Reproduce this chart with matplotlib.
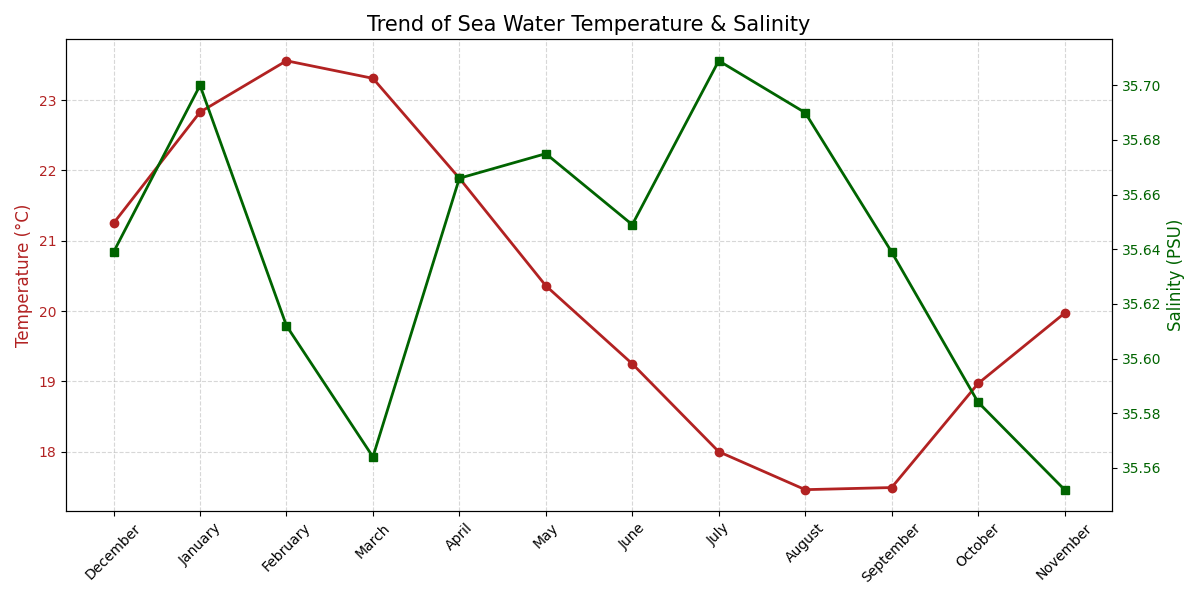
import matplotlib.pyplot as plt

months = ['December', 'January', 'February', 'March', 'April', 'May',
          'June', 'July', 'August', 'September', 'October', 'November']
temperature = [21.25, 22.83, 23.56, 23.31, 21.89, 20.36,
               19.25, 18.00, 17.46, 17.49, 18.97, 19.97]
salinity = [35.639, 35.700, 35.612, 35.564, 35.666, 35.675,
            35.649, 35.709, 35.690, 35.639, 35.584, 35.552]

temp_color = 'firebrick'
sal_color = 'darkgreen'

fig, ax1 = plt.subplots(figsize=(12, 6), dpi=100)

ax1.plot(months, temperature, color=temp_color, marker='o', linewidth=2)
ax1.set_ylabel('Temperature (°C)', color=temp_color, fontsize=12)
ax1.tick_params(axis='y', labelcolor=temp_color)
ax1.tick_params(axis='x', rotation=45)
ax1.grid(True, linestyle='--', alpha=0.5)

ax2 = ax1.twinx()
ax2.plot(months, salinity, color=sal_color, marker='s', linewidth=2)
ax2.set_ylabel('Salinity (PSU)', color=sal_color, fontsize=12)
ax2.tick_params(axis='y', labelcolor=sal_color)

ax1.set_title('Trend of Sea Water Temperature & Salinity', fontsize=15)

plt.tight_layout()
plt.savefig('out.png', dpi=100)
plt.close()
